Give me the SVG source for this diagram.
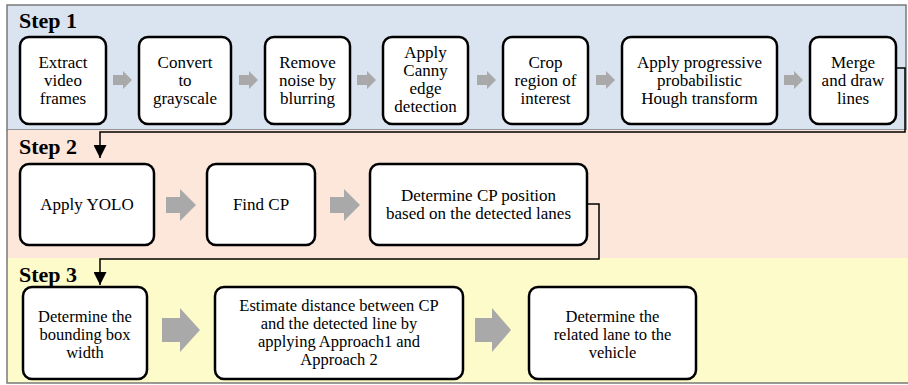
<svg xmlns="http://www.w3.org/2000/svg" width="908" height="385" viewBox="0 0 908 385">
<defs>
<marker id="ah" viewBox="0 0 10 10" refX="10" refY="5" markerWidth="14" markerHeight="13" markerUnits="userSpaceOnUse" orient="auto">
<path d="M0,0 L10,5 L0,10 z" fill="#000"/>
</marker>
</defs>
<g id="panels">
<rect x="7" y="5" width="899" height="125" fill="#dae4f0" stroke="#7a7a7a" stroke-width="1.5"/>
<rect x="7" y="130" width="905" height="128" fill="#fde6da"/>
<rect x="7" y="258" width="905" height="125" fill="#fdfbc9"/>
<path d="M7,130 V383 H908" fill="none" stroke="#7a7a7a" stroke-width="1.5"/>
<text x="19" y="28" font-family="Liberation Serif" font-size="22" font-weight="bold">Step 1</text>
<text x="19" y="154" font-family="Liberation Serif" font-size="22" font-weight="bold">Step 2</text>
<text x="19" y="282" font-family="Liberation Serif" font-size="22" font-weight="bold">Step 3</text>
</g>
<g id="connectors">
<g fill="#a9a9a9">
<path d="M113,75 h10 v-4 l9,9 l-9,9 v-4 h-10 z"/>
<path d="M239,75 h10 v-4 l9,9 l-9,9 v-4 h-10 z"/>
<path d="M357,75 h10 v-4 l9,9 l-9,9 v-4 h-10 z"/>
<path d="M477,75 h10 v-4 l9,9 l-9,9 v-4 h-10 z"/>
<path d="M596,75 h10 v-4 l9,9 l-9,9 v-4 h-10 z"/>
<path d="M784,75 h10 v-4 l9,9 l-9,9 v-4 h-10 z"/>
<path d="M166,197 h14 v-8 l16,16 l-16,16 v-8 h-14 z"/>
<path d="M330,197 h14 v-8 l16,16 l-16,16 v-8 h-14 z"/>
<path d="M162,318 h18 v-10 l20,22 l-20,22 v-10 h-18 z"/>
<path d="M475,318 h17 v-10 l19,22 l-19,22 v-10 h-17 z"/>
</g>
<g fill="none" stroke="#000" stroke-width="1.5">
<path d="M896,68 H905 V132 H100 V158" marker-end="url(#ah)"/>
<path d="M587,204 H599 V259 H100 V285" marker-end="url(#ah)"/>
</g>
</g>
<g id="n1"><rect x="20" y="37" width="86" height="87" rx="9" fill="#fff" stroke="#000" stroke-width="2.5"/>
<text x="63" y="68" font-family="Liberation Serif" font-size="17" text-anchor="middle">Extract</text><text x="63" y="86" font-family="Liberation Serif" font-size="17" text-anchor="middle">video</text><text x="63" y="104" font-family="Liberation Serif" font-size="17" text-anchor="middle">frames</text></g>
<g id="n2"><rect x="139" y="37" width="92" height="87" rx="9" fill="#fff" stroke="#000" stroke-width="2.5"/>
<text x="185" y="68" font-family="Liberation Serif" font-size="17" text-anchor="middle">Convert</text><text x="185" y="86" font-family="Liberation Serif" font-size="17" text-anchor="middle">to</text><text x="185" y="104" font-family="Liberation Serif" font-size="17" text-anchor="middle">grayscale</text></g>
<g id="n3"><rect x="265" y="37" width="85" height="87" rx="9" fill="#fff" stroke="#000" stroke-width="2.5"/>
<text x="307.5" y="68" font-family="Liberation Serif" font-size="17" text-anchor="middle">Remove</text><text x="307.5" y="86" font-family="Liberation Serif" font-size="17" text-anchor="middle">noise by</text><text x="307.5" y="104" font-family="Liberation Serif" font-size="17" text-anchor="middle">blurring</text></g>
<g id="n4"><rect x="383" y="37" width="85" height="87" rx="9" fill="#fff" stroke="#000" stroke-width="2.5"/>
<text x="425.5" y="58" font-family="Liberation Serif" font-size="17" text-anchor="middle">Apply</text><text x="425.5" y="76" font-family="Liberation Serif" font-size="17" text-anchor="middle">Canny</text><text x="425.5" y="94" font-family="Liberation Serif" font-size="17" text-anchor="middle">edge</text><text x="425.5" y="112" font-family="Liberation Serif" font-size="17" text-anchor="middle">detection</text></g>
<g id="n5"><rect x="503" y="37" width="85" height="87" rx="9" fill="#fff" stroke="#000" stroke-width="2.5"/>
<text x="545.5" y="68" font-family="Liberation Serif" font-size="17" text-anchor="middle">Crop</text><text x="545.5" y="86" font-family="Liberation Serif" font-size="17" text-anchor="middle">region of</text><text x="545.5" y="104" font-family="Liberation Serif" font-size="17" text-anchor="middle">interest</text></g>
<g id="n6"><rect x="622" y="37" width="155" height="87" rx="9" fill="#fff" stroke="#000" stroke-width="2.5"/>
<text x="699.5" y="68" font-family="Liberation Serif" font-size="17" text-anchor="middle">Apply progressive</text><text x="699.5" y="86" font-family="Liberation Serif" font-size="17" text-anchor="middle">probabilistic</text><text x="699.5" y="104" font-family="Liberation Serif" font-size="17" text-anchor="middle">Hough transform</text></g>
<g id="n7"><rect x="810" y="37" width="86" height="87" rx="9" fill="#fff" stroke="#000" stroke-width="2.5"/>
<text x="853" y="68" font-family="Liberation Serif" font-size="17" text-anchor="middle">Merge</text><text x="853" y="86" font-family="Liberation Serif" font-size="17" text-anchor="middle">and draw</text><text x="853" y="104" font-family="Liberation Serif" font-size="17" text-anchor="middle">lines</text></g>
<g id="n8"><rect x="20" y="164" width="134" height="81" rx="9" fill="#fff" stroke="#000" stroke-width="2.5"/>
<text x="87" y="210" font-family="Liberation Serif" font-size="17" text-anchor="middle">Apply YOLO</text></g>
<g id="n9"><rect x="207" y="164" width="108" height="81" rx="9" fill="#fff" stroke="#000" stroke-width="2.5"/>
<text x="261" y="210" font-family="Liberation Serif" font-size="17" text-anchor="middle">Find CP</text></g>
<g id="n10"><rect x="370" y="164" width="217" height="81" rx="9" fill="#fff" stroke="#000" stroke-width="2.5"/>
<text x="478.5" y="201" font-family="Liberation Serif" font-size="17" text-anchor="middle">Determine CP position</text><text x="478.5" y="219" font-family="Liberation Serif" font-size="17" text-anchor="middle">based on the detected lanes</text></g>
<g id="n11"><rect x="23" y="287" width="124" height="92" rx="9" fill="#fff" stroke="#000" stroke-width="2.5"/>
<text x="85" y="322" font-family="Liberation Serif" font-size="16.5" text-anchor="middle">Determine the</text><text x="85" y="340" font-family="Liberation Serif" font-size="16.5" text-anchor="middle">bounding box</text><text x="85" y="358" font-family="Liberation Serif" font-size="16.5" text-anchor="middle">width</text></g>
<g id="n12"><rect x="215" y="287" width="248" height="92" rx="9" fill="#fff" stroke="#000" stroke-width="2.5"/>
<text x="339" y="311" font-family="Liberation Serif" font-size="16.5" text-anchor="middle">Estimate distance between CP</text><text x="339" y="329" font-family="Liberation Serif" font-size="16.5" text-anchor="middle">and the detected line by</text><text x="339" y="347" font-family="Liberation Serif" font-size="16.5" text-anchor="middle">applying Approach1 and</text><text x="339" y="365" font-family="Liberation Serif" font-size="16.5" text-anchor="middle">Approach 2</text></g>
<g id="n13"><rect x="529" y="287" width="167" height="92" rx="9" fill="#fff" stroke="#000" stroke-width="2.5"/>
<text x="612.5" y="322" font-family="Liberation Serif" font-size="16.5" text-anchor="middle">Determine the</text><text x="612.5" y="340" font-family="Liberation Serif" font-size="16.5" text-anchor="middle">related lane to the</text><text x="612.5" y="358" font-family="Liberation Serif" font-size="16.5" text-anchor="middle">vehicle</text></g>
</svg>
